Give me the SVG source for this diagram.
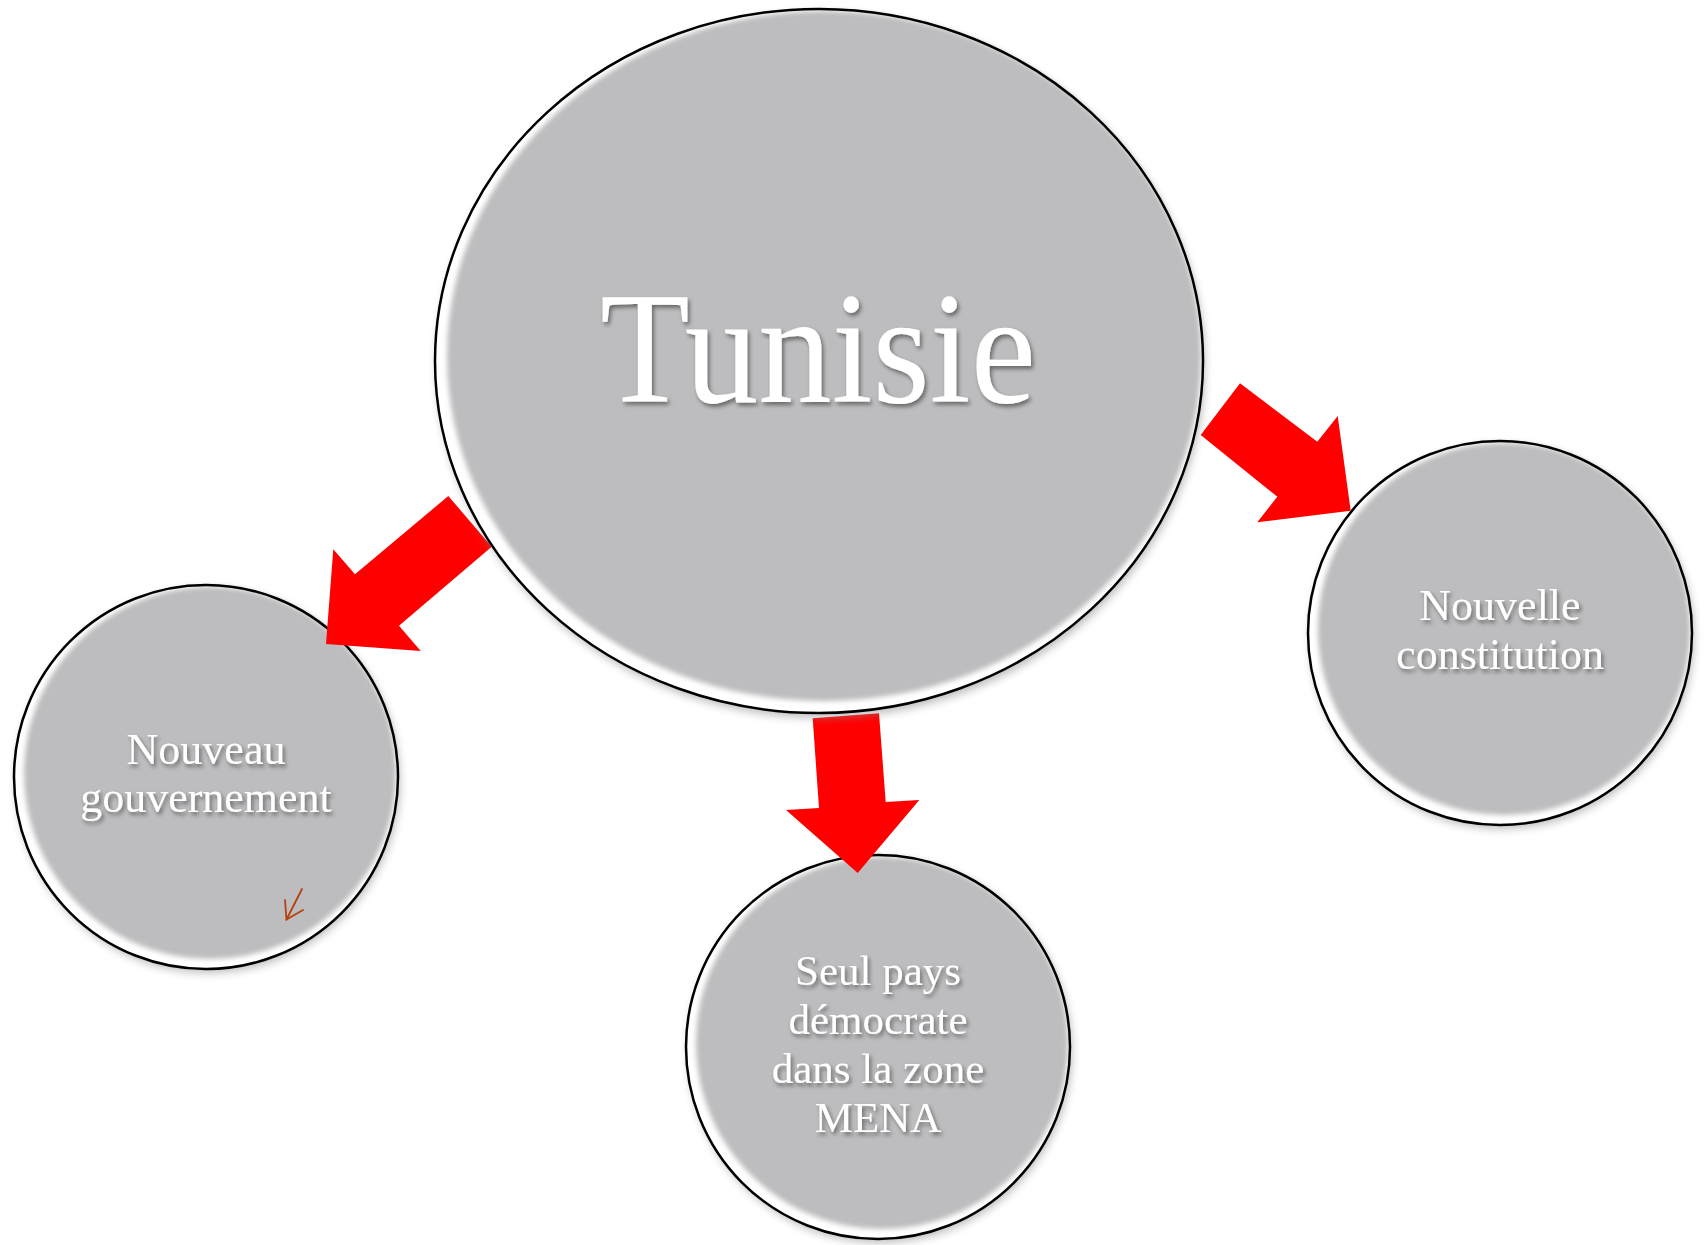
<svg xmlns="http://www.w3.org/2000/svg" width="1707" height="1245" viewBox="0 0 1707 1245">
<style>
  .rim { fill: #ffffff; }
  .face { fill: #BDBCBE; filter: url(#soft); }
  .edge { fill: none; stroke: #000000; stroke-width: 2.5; }
  .shadow { fill: #8a8a8a; opacity: 0.55; filter: url(#blur); }
  .lbl { font-family: "Liberation Serif", "DejaVu Serif", serif; fill: #ffffff; text-anchor: middle; filter: url(#tshadow); }
  .arrow { fill: #FF0000; stroke: none; }
</style>
<defs>
  <filter id="soft" x="-5%" y="-5%" width="110%" height="110%">
    <feGaussianBlur stdDeviation="2.5"/>
  </filter>
  <filter id="blur" x="-10%" y="-10%" width="120%" height="120%">
    <feGaussianBlur stdDeviation="4"/>
  </filter>
  <filter id="tshadow" x="-10%" y="-20%" width="120%" height="150%">
    <feDropShadow dx="2" dy="3" stdDeviation="2" flood-color="#000000" flood-opacity="0.45"/>
  </filter>
</defs>
<rect width="1707" height="1245" fill="#ffffff"/>

<g id="node-gouvernement">
  <circle class="shadow" cx="208" cy="781" r="192"/>
  <circle class="rim" cx="206" cy="777" r="192"/>
  <circle class="face" cx="210" cy="773" r="186"/>
  <circle class="edge" cx="206" cy="777" r="192"/>
  <text class="lbl" font-size="44" x="206" y="764">Nouveau</text>
  <text class="lbl" font-size="44" x="206" y="812">gouvernement</text>
  <g fill="none" stroke="#B5410F" stroke-width="1.8" stroke-linecap="round">
    <line x1="302" y1="889" x2="286.5" y2="919.5"/>
    <polyline points="285,900 286.5,919.5 303,910"/>
  </g>
</g>

<g id="node-constitution">
  <circle class="shadow" cx="1502" cy="637" r="192"/>
  <circle class="rim" cx="1500" cy="633" r="192"/>
  <circle class="face" cx="1504" cy="629" r="186"/>
  <circle class="edge" cx="1500" cy="633" r="192"/>
  <text class="lbl" font-size="44" x="1500" y="620">Nouvelle</text>
  <text class="lbl" font-size="44" x="1500" y="669">constitution</text>
</g>

<g id="node-mena">
  <circle class="shadow" cx="880" cy="1051" r="192"/>
  <circle class="rim" cx="878" cy="1047" r="192"/>
  <circle class="face" cx="882" cy="1043" r="186"/>
  <circle class="edge" cx="878" cy="1047" r="192"/>
  <text class="lbl" font-size="43" x="878" y="985">Seul pays</text>
  <text class="lbl" font-size="43" x="878" y="1034">démocrate</text>
  <text class="lbl" font-size="43" x="878" y="1083">dans la zone</text>
  <text class="lbl" font-size="43" x="878" y="1132">MENA</text>
</g>

<g id="connectors">
  <polygon class="arrow" points="448.3,496 491.7,546.7 399,625.7 420.7,651 326,644 333.3,549.3 355,574.3"/>
  <polygon class="arrow" points="1240,383.3 1200.7,435 1277.3,496.7 1257.3,522.3 1350.7,510.7 1337.7,416 1317.3,441.7"/>
  <polygon class="arrow" points="812.7,718.3 879,713.3 885.7,802 919.3,800 857.7,873 786,810 819,808"/>
</g>

<g id="node-tunisie">
  <ellipse class="shadow" cx="821" cy="366" rx="384" ry="352"/>
  <ellipse class="rim" cx="819" cy="361" rx="384" ry="352"/>
  <ellipse class="face" cx="824" cy="356" rx="377" ry="345"/>
  <ellipse class="edge" cx="819" cy="361" rx="384" ry="352"/>
  <text class="lbl" font-size="158" x="818" y="402" textLength="436" lengthAdjust="spacingAndGlyphs">Tunisie</text>
</g>
</svg>
